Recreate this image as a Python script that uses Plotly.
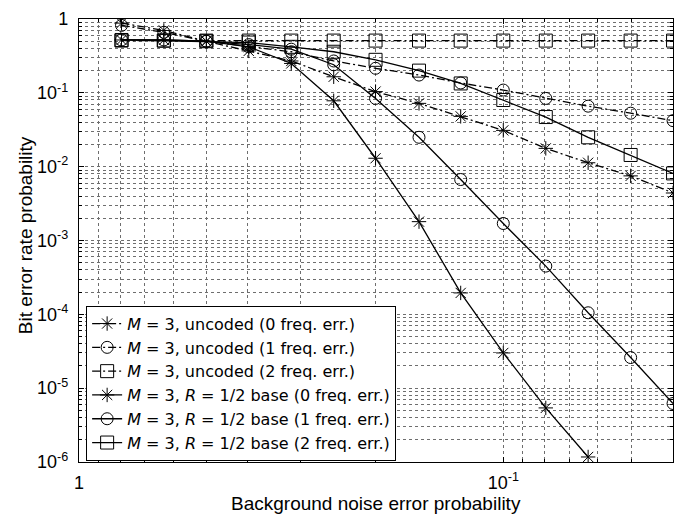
import plotly.graph_objects as go

# Background noise error probability (x), log-spaced points
x_vals = [0.794, 0.631, 0.501, 0.398, 0.316, 0.251, 0.200, 0.158, 0.126, 0.100,
          0.0794, 0.0631, 0.0501, 0.0398]

uncoded_0 = [0.88, 0.70, 0.50, 0.37, 0.27, 0.165, 0.104, 0.072, 0.048, 0.031,
             0.0177, 0.0113, 0.0075, 0.0044]
uncoded_1 = [0.82, 0.66, 0.50, 0.42, 0.36, 0.27, 0.215, 0.174, 0.136, 0.109,
             0.084, 0.066, 0.053, 0.042]
uncoded_2 = [0.51, 0.51, 0.51, 0.51, 0.51, 0.51, 0.51, 0.51, 0.51, 0.51,
             0.51, 0.51, 0.51, 0.51]
coded_0 = [0.52, 0.52, 0.50, 0.42, 0.25, 0.078, 0.013, 0.0018, 1.95e-4, 3.0e-5,
           5.4e-6, 1.17e-6]
coded_1 = [0.52, 0.52, 0.50, 0.45, 0.39, 0.24, 0.084, 0.025, 0.0067, 0.0017,
           4.5e-4, 1.05e-4, 2.6e-5, 6.2e-6]
coded_2 = [0.52, 0.51, 0.50, 0.48, 0.42, 0.36, 0.28, 0.20, 0.134, 0.08,
           0.047, 0.025, 0.0144, 0.0081]

names = [
    "<i>M</i> = 3, uncoded (0 freq. err.)",
    "<i>M</i> = 3, uncoded (1 freq. err.)",
    "<i>M</i> = 3, uncoded (2 freq. err.)",
    "<i>M</i> = 3, <i>R</i> = 1/2 base (0 freq. err.)",
    "<i>M</i> = 3, <i>R</i> = 1/2 base (1 freq. err.)",
    "<i>M</i> = 3, <i>R</i> = 1/2 base (2 freq. err.)",
]
series = [uncoded_0, uncoded_1, uncoded_2, coded_0, coded_1, coded_2]

x_ticks = [1, 0.1]
x_ticktext = ["1", "10<sup>-1</sup>"]
y_ticks = [1, 1e-1, 1e-2, 1e-3, 1e-4, 1e-5, 1e-6]
y_ticktext = ["1", "10<sup>-1</sup>", "10<sup>-2</sup>", "10<sup>-3</sup>",
              "10<sup>-4</sup>", "10<sup>-5</sup>", "10<sup>-6</sup>"]
x_title = "Background noise error probability"
y_title = "Bit error rate probability"

symbols = ["asterisk-open", "circle-open", "square-open"] * 2
sizes = [12, 12, 13] * 2
dashes = ["8px,3px,2px,3px"] * 3 + ["solid"] * 3

fig = go.Figure()
for name, ys, sym, sz, dash in zip(names, series, symbols, sizes, dashes):
    fig.add_trace(go.Scatter(
        x=x_vals[:len(ys)], y=ys, name=name, mode="lines+markers",
        line=dict(color="black", width=1.3, dash=dash),
        marker=dict(symbol=sym, size=sz, color="black",
                    line=dict(color="black", width=1)),
    ))

x_minor = [m * 10.0 ** e for e in (-1, -2) for m in range(2, 10)]
y_minor = [m * 10.0 ** e for e in range(-6, 0) for m in range(2, 10)]

grid = dict(showgrid=True, gridcolor="#6e6e6e", gridwidth=1, griddash="dot")
fig.update_xaxes(
    type="log", range=[0, -1.4], tickmode="array", tickvals=x_ticks,
    ticktext=x_ticktext, ticks="inside", ticklen=5, tickcolor="black",
    showline=True, linecolor="black", linewidth=1.2, mirror="ticks",
    zeroline=False, **grid, ticklabelstandoff=4,
    minor=dict(tickvals=x_minor, ticks="inside", ticklen=3, tickcolor="black",
               **grid),
    tickfont=dict(size=18, color="black"),
)
fig.update_yaxes(
    type="log", range=[-6, 0], tickmode="array", tickvals=y_ticks,
    ticktext=y_ticktext, ticks="inside", ticklen=5, tickcolor="black",
    showline=True, linecolor="black", linewidth=1.2, mirror="ticks",
    zeroline=False, **grid, ticklabelstandoff=6,
    minor=dict(tickvals=y_minor, ticks="inside", ticklen=3, tickcolor="black",
               **grid),
    tickfont=dict(size=18, color="black"),
)
fig.add_annotation(text=x_title, xref="paper", yref="paper", x=0.5, y=-0.093,
                   xanchor="center", yanchor="middle", showarrow=False,
                   font=dict(size=19, color="black"))
fig.add_annotation(text=y_title, xref="paper", yref="paper", x=-0.091, y=0.512,
                   xanchor="center", yanchor="middle", showarrow=False,
                   textangle=-90, font=dict(size=19, color="black"))
# the page body adds an 8px margin, so the figure is 8px smaller and shifted
fig.update_layout(
    width=687, height=508,
    margin=dict(l=71, r=22, t=11, b=54, autoexpand=False),
    paper_bgcolor="white", plot_bgcolor="white",
    font=dict(family="Liberation Sans, Arial, sans-serif", color="black"),
    showlegend=True,
    legend=dict(x=0.012, y=0.178, xanchor="left", yanchor="middle",
                bgcolor="white", bordercolor="black", borderwidth=1,
                font=dict(family="DejaVu Sans, sans-serif", size=16,
                          color="black"),
                tracegroupgap=0, itemwidth=30),
)
fig.write_html("out.html")
